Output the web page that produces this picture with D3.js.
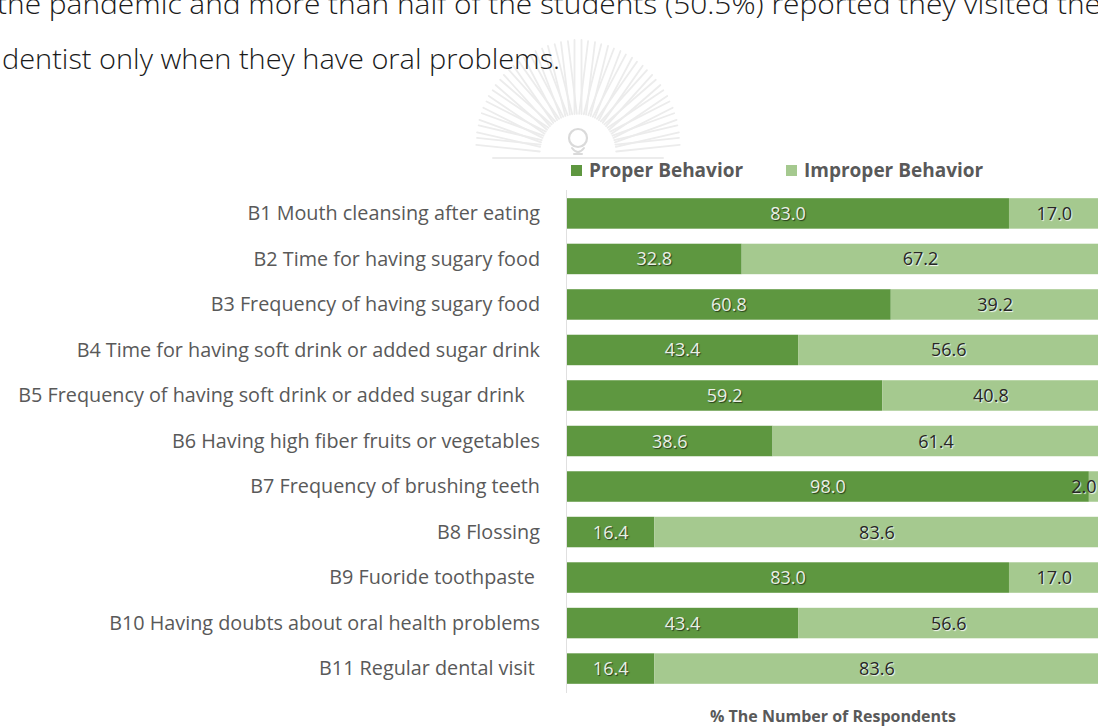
<!DOCTYPE html>
<html>
<head>
<meta charset="utf-8">
<script src="https://cdn.jsdelivr.net/npm/d3@7"></script>
<style>
  html, body { margin: 0; padding: 0; background: #ffffff; }
  svg { display: block; }
</style>
</head>
<body>
<div id="chart"></div>
<script>
// Oral health behaviours: share of respondents with proper vs improper behaviour
const categories = [
  "B1 Mouth cleansing after eating",
  "B2 Time for having sugary food",
  "B3 Frequency of having sugary food",
  "B4 Time for having soft drink or added sugar drink",
  "B5 Frequency of having soft drink or added sugar drink   ",
  "B6 Having high fiber fruits or vegetables",
  "B7 Frequency of brushing teeth",
  "B8 Flossing",
  "B9 Fuoride toothpaste ",
  "B10 Having doubts about oral health problems",
  "B11 Regular dental visit "
];
const properValues   = [83.0, 32.8, 60.8, 43.4, 59.2, 38.6, 98.0, 16.4, 83.0, 43.4, 16.4];
const improperValues = [17.0, 67.2, 39.2, 56.6, 40.8, 61.4, 2.0, 83.6, 17.0, 56.6, 83.6];
const seriesNames = ["Proper Behavior", "Improper Behavior"];
const axisTitle = "% The Number of Respondents";
const bodyLines = [
  "the pandemic and more than half of the students (50.5%) reported they visited the",
  "dentist only when they have oral problems."
];

const W = 1098, H = 727;
const colors = ["#5e9740", "#a5c98f"];

const svg = d3.select("#chart").append("svg")
  .attr("width", W).attr("height", H);

// Faint emblem behind the heading text
const emblem = svg.append("g").attr("transform", "translate(578,152)")
  .attr("fill", "none").attr("stroke", "#ececec").attr("stroke-linecap", "round");
const rayAngles = d3.range(-84, 85, 7);
rayAngles.forEach(a => {
  const r = (a * Math.PI) / 180;
  const len = 112 - Math.abs(a) * 0.12;
  const start = 38;
  [-3.5, 3.5].forEach(off => {
    const x0 = Math.sin(r) * start + Math.cos(r) * off, y0 = -Math.cos(r) * start + Math.sin(r) * off;
    const x1 = Math.sin(r) * len + Math.cos(r) * off, y1 = -Math.cos(r) * len + Math.sin(r) * off;
    emblem.append("line").attr("x1", x0).attr("y1", y0).attr("x2", x1).attr("y2", y1)
      .attr("stroke-width", 1.8);
  });
});
emblem.append("circle").attr("cx", 0).attr("cy", -14).attr("r", 9).attr("stroke-width", 2.2).attr("stroke", "#dadada");
emblem.append("path").attr("d", "M-6,-4 Q0,4 6,-4 M-4,2 L4,2").attr("stroke-width", 2).attr("stroke", "#dadada");
emblem.append("line").attr("x1", -85).attr("x2", 85).attr("y1", 6).attr("y2", 6).attr("stroke-width", 2);

// Body text above the chart
const bodyFont = "'Liberation Sans Narrow', 'Open Sans', sans-serif";
svg.append("text")
  .attr("x", -3).attr("y", 14)
  .attr("textLength", 1104).attr("lengthAdjust", "spacingAndGlyphs")
  .attr("font-family", bodyFont).attr("font-weight", 300)
  .attr("font-size", 27).attr("fill", "#1a1a1a")
  .text(bodyLines[0]);
svg.append("text")
  .attr("x", 2).attr("y", 69)
  .attr("textLength", 558).attr("lengthAdjust", "spacingAndGlyphs")
  .attr("font-family", bodyFont).attr("font-weight", 300)
  .attr("font-size", 27).attr("fill", "#1a1a1a")
  .text(bodyLines[1]);

// Scales
const x = d3.scaleLinear().domain([0, 100]).range([567, 1099.5]);
const y = d3.scaleBand().domain(categories).range([190, 692]).paddingInner(0.33).paddingOuter(0.18);

const labelFont = "'Open Sans', 'Noto Sans', sans-serif";

// Stacked data
const rows = categories.map((c, i) => ({ cat: c, proper: properValues[i], improper: improperValues[i] }));
const stack = d3.stack().keys(["proper", "improper"]);
const layers = stack(rows);

const g = svg.append("g");
g.selectAll("g.layer").data(layers).join("g")
  .attr("class", "layer")
  .attr("fill", (d, i) => colors[i])
  .selectAll("rect").data(d => d).join("rect")
  .attr("x", d => x(d[0]))
  .attr("y", d => y(d.data.cat))
  .attr("width", d => x(d[1]) - x(d[0]))
  .attr("height", y.bandwidth());

// Value labels (a thin segment gets its label tucked inside the bar end)
layers.forEach((layer, li) => {
  g.append("g").selectAll("text").data(layer).join("text")
    .attr("x", d => li === 1 && d.data.improper < 5 ? x(d[1]) - 3 : (x(d[0]) + x(d[1])) / 2)
    .attr("y", d => y(d.data.cat) + y.bandwidth() / 2 + 6.5)
    .attr("text-anchor", d => li === 1 && d.data.improper < 5 ? "end" : "middle")
    .attr("font-family", labelFont).attr("font-size", 18)
    .attr("fill", li === 0 ? "#eaf0e6" : "#262626")
    .style("text-shadow", li === 0 ? "1px 1px 1px rgba(0,0,0,0.6)" : "1px 1px 1px rgba(255,255,255,0.9)")
    .text(d => d3.format(".1f")(d.data[layer.key]));
});

// Category axis
const yAxis = d3.axisLeft(y).tickSize(0).tickPadding(26);
const ya = svg.append("g").attr("transform", "translate(566,0)").call(yAxis);
ya.select(".domain").attr("stroke", "#e0e0e0").attr("d", "M0.5,190V693");
ya.selectAll(".tick text")
  .attr("font-family", labelFont).attr("font-size", 19.8).attr("fill", "#595959")
  .attr("dy", "0.34em")
  .style("white-space", "pre").attr("xml:space", "preserve");

// Legend
const legend = svg.append("g").attr("transform", "translate(571,170)");
const legendX = [0, 215];
seriesNames.forEach((name, i) => {
  const lg = legend.append("g").attr("transform", `translate(${legendX[i]},0)`);
  lg.append("rect").attr("x", 0).attr("y", -5).attr("width", 11).attr("height", 11).attr("fill", colors[i]);
  lg.append("text").attr("x", 18).attr("y", 7)
    .attr("font-family", labelFont).attr("font-size", 19).attr("font-weight", "bold").attr("fill", "#595959")
    .text(name);
});

// Axis title
svg.append("text")
  .attr("x", 833).attr("y", 722)
  .attr("text-anchor", "middle")
  .attr("font-family", labelFont).attr("font-size", 16).attr("font-weight", "bold").attr("fill", "#595959")
  .text(axisTitle);
</script>
</body>
</html>
